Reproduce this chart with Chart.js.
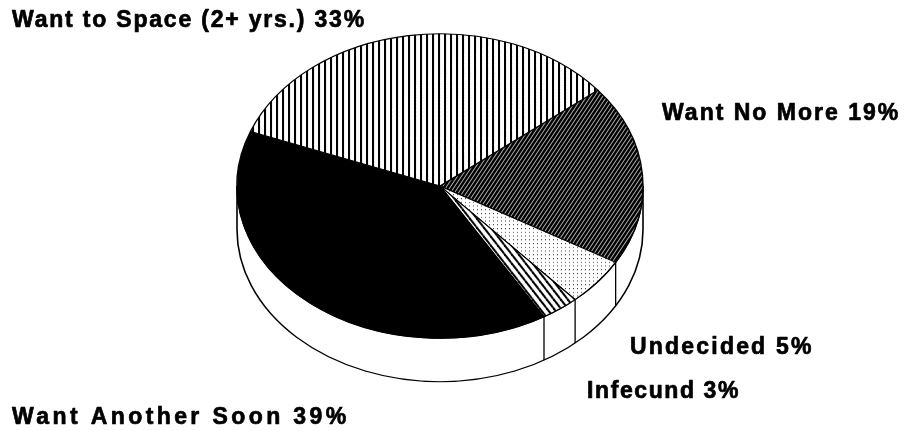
<!DOCTYPE html>
<html>
<head>
<meta charset="utf-8">
<title>Fertility intentions</title>
<script src="https://cdn.jsdelivr.net/npm/chart.js@4.4.1/dist/chart.umd.min.js"></script>
<style>
  html, body { margin: 0; padding: 0; background: #fff; }
  .chart-box { position: relative; width: 907px; height: 431px; }
</style>
</head>
<body>
<div class="chart-box"><canvas id="pie"></canvas></div>
<script>
// data (clockwise from upper right)
const categories = ['Want No More', 'Undecided', 'Infecund', 'Want Another Soon', 'Want to Space (2+ yrs.)'];
const percents = [19, 5, 3, 39, 33];

// where each label goes (left x, baseline y, letter spacing)
const labelPos = [[662, 120, 2.0], [630, 354, 2.2], [587, 398, 1.6], [12, 424, 3.4], [12, 27, 1.8]];

const TILT = 0.75;   // vertical squash of the pie top
const DEPTH = 58;    // wall height before squashing

function makePattern(w, h, draw) {
  const c = document.createElement('canvas');
  c.width = w; c.height = h;
  const g = c.getContext('2d');
  draw(g, w, h);
  return g.createPattern(c, 'repeat');
}

const vStripes = makePattern(6, 6, (g, w, h) => {
  g.fillStyle = '#fff'; g.fillRect(0, 0, w, h);
  g.fillStyle = '#000'; g.fillRect(0, 0, 2, h);
});

const denseHatch = makePattern(4, 8, (g, w, h) => {
  g.fillStyle = '#000'; g.fillRect(0, 0, w, h);
  g.strokeStyle = '#fff'; g.lineWidth = 0.8;
  for (let k = -1; k <= 1; k++) {
    g.beginPath(); g.moveTo(k * w, h); g.lineTo(k * w + w, 0); g.stroke();
  }
});

const dots = makePattern(4, 5, (g, w, h) => {
  g.fillStyle = '#fff'; g.fillRect(0, 0, w, h);
  g.fillStyle = '#333'; g.fillRect(1, 2, 1, 1.3);
});

const backHatch = makePattern(7, 12, (g, w, h) => {
  g.fillStyle = '#fff'; g.fillRect(0, 0, w, h);
  g.strokeStyle = '#000'; g.lineWidth = 2.2;
  for (let k = -1; k <= 1; k++) {
    g.beginPath(); g.moveTo(k * w, 0); g.lineTo(k * w + w, h); g.stroke();
  }
});

const fills = [denseHatch, dots, backHatch, '#000', vStripes];

// squash the pie into an ellipse and draw the side wall under it
const tiltPlugin = {
  id: 'tilt',
  beforeDatasetsDraw(chart) {
    const ctx = chart.ctx;
    const arcs = chart.getDatasetMeta(0).data;
    const { x, y, outerRadius: r } = arcs[0];
    ctx.save();
    ctx.translate(x, y);
    ctx.scale(1, TILT);
    ctx.translate(-x, -y);

    ctx.beginPath();
    ctx.moveTo(x + r, y);
    ctx.lineTo(x + r, y + DEPTH);
    ctx.arc(x, y + DEPTH, r, 0, Math.PI, false);
    ctx.lineTo(x - r, y);
    ctx.arc(x, y, r, Math.PI, 0, true);
    ctx.closePath();
    ctx.fillStyle = '#fff';
    ctx.fill();
    ctx.lineWidth = 1.6;
    ctx.strokeStyle = '#000';
    ctx.stroke();

    ctx.lineWidth = 1.3;
    arcs.forEach(a => {
      let ang = a.startAngle % (2 * Math.PI);
      if (ang < 0) ang += 2 * Math.PI;
      if (ang > 0.02 && ang < Math.PI - 0.02) {
        const px = x + r * Math.cos(ang), py = y + r * Math.sin(ang);
        ctx.beginPath(); ctx.moveTo(px, py); ctx.lineTo(px, py + DEPTH); ctx.stroke();
      }
    });
  },
  afterDatasetsDraw(chart) {
    chart.ctx.restore();
  },
  afterDraw(chart) {
    const ctx = chart.ctx;
    ctx.save();
    ctx.fillStyle = '#000';
    ctx.strokeStyle = '#000';
    ctx.lineWidth = 0.7;
    ctx.lineJoin = 'round';
    ctx.font = 'bold 23px "Liberation Sans", Arial, sans-serif';
    ctx.textBaseline = 'alphabetic';
    categories.forEach((c, i) => {
      const [lx, ly, sp] = labelPos[i];
      ctx.letterSpacing = sp + 'px';
      const txt = c + ' ' + percents[i] + '%';
      ctx.fillText(txt, lx, ly);
      ctx.strokeText(txt, lx, ly);
    });
    ctx.restore();
  }
};

const ctx = document.getElementById('pie').getContext('2d');
new Chart(ctx, {
  type: 'pie',
  data: {
    labels: categories,
    datasets: [{
      data: percents,
      backgroundColor: fills,
      borderColor: '#000',
      borderWidth: 1.4,
      radius: 203,
      clip: false
    }]
  },
  options: {
    responsive: true,
    maintainAspectRatio: false,
    animation: false,
    rotation: 51,
    layout: { padding: { left: 230, right: 257, top: 0, bottom: 59 } },
    plugins: {
      legend: { display: false },
      tooltip: { enabled: false }
    }
  },
  plugins: [tiltPlugin]
});
</script>
</body>
</html>
